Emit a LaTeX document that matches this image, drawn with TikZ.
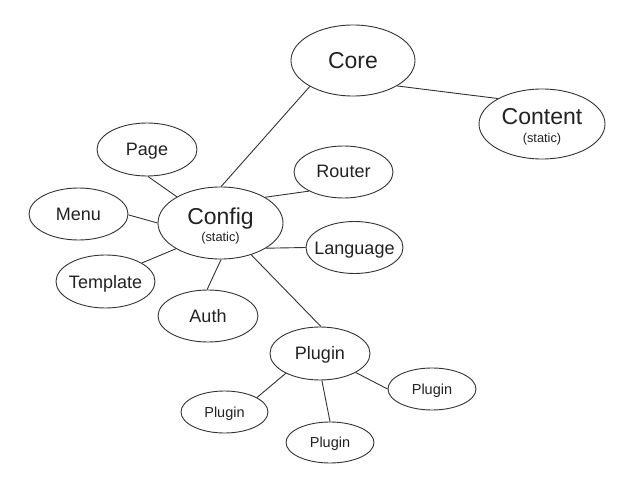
\documentclass[tikz,border=0pt]{standalone}
\usepackage{fontspec}
\setmainfont{Liberation Sans}
\usetikzlibrary{shapes.geometric}
\definecolor{linec}{HTML}{333333}
\definecolor{textc}{HTML}{222222}
\tikzset{
  ell/.style 2 args={ellipse, draw=linec, line width=0.9pt, inner sep=0pt,
    minimum width=#1, minimum height=#2},
  conn/.style={draw=linec, line width=0.9pt},
  bigtxt/.style={font=\fontsize{23}{25}\selectfont, text=textc, anchor=base, inner sep=0pt},
  medtxt/.style={font=\fontsize{18}{20}\selectfont, text=textc, anchor=base, inner sep=0pt},
  smtxt/.style={font=\fontsize{14.5}{16}\selectfont, text=textc, anchor=base, inner sep=0pt},
  stattxt/.style={font=\fontsize{12.8}{14}\selectfont, text=textc, anchor=base, inner sep=0pt},
}
\begin{document}
\begin{tikzpicture}[x=1pt,y=-1pt]
\useasboundingbox[fill=white] (0,0) rectangle (635,484);
% ellipses
\node[ell={124pt}{71pt}] (core) at (353,60.5) {};
\node[ell={126pt}{70pt}] (content) at (542,124) {};
\node[ell={125pt}{72pt}] (config) at (220.5,223) {};
\node[ell={100pt}{53pt}] (page) at (147,149.5) {};
\node[ell={99pt}{52pt}] (menu) at (78.5,214) {};
\node[ell={99pt}{53pt}] (template) at (105.5,281.5) {};
\node[ell={100pt}{52pt}] (auth) at (208,316) {};
\node[ell={99pt}{52pt}] (router) at (343.5,172) {};
\node[ell={97pt}{52pt}] (language) at (354.5,247.5) {};
\node[ell={100pt}{53pt}] (plugin) at (320,353.5) {};
\node[ell={88pt}{42pt}] (pright) at (432,389) {};
\node[ell={87pt}{42pt}] (pleft) at (224.5,412) {};
\node[ell={88pt}{41pt}] (pbottom) at (330,442.5) {};
% texts
\node[bigtxt] (coreT) at (353,69) {Core};
\node[bigtxt] (contentT) at (542,125) {Content};
\node[stattxt] (contentS) at (542,143) {(static)};
\node[bigtxt] (configT) at (220.5,224.3) {Config};
\node[stattxt] (configS) at (220.5,241) {(static)};
\node[medtxt] (pageT) at (147,156) {Page};
\node[medtxt] (menuT) at (78.5,220) {Menu};
\node[medtxt] (templateT) at (105.5,288) {Template};
\node[medtxt] (authT) at (208,322) {Auth};
\node[medtxt] (routerT) at (343.5,178) {Router};
\node[medtxt] (languageT) at (354.5,254) {Language};
\node[medtxt] (pluginT) at (320,359) {Plugin};
\node[smtxt] (prightT) at (432,394) {Plugin};
\node[smtxt] (pleftT) at (224.5,417) {Plugin};
\node[smtxt] (pbottomT) at (330,447.3) {Plugin};
% connectors
\draw[conn] (config.149) -- (page.272);
\draw[conn] (config.180) -- (menu.359);
\draw[conn] (config.210) -- (template.27);
\draw[conn] (config.271) -- (auth.92);
\draw[conn] (config.89) -- (core.211);
\draw[conn] (core.330.5) -- (content.150);
\draw[conn] (config.30) -- (router.209);
\draw[conn] (config.331) -- (language.180);
\draw[conn] (config.314) -- (plugin.88);
\draw[conn] (plugin.210) -- (pleft.24);
\draw[conn] (plugin.274) -- (pbottom.90);
\draw[conn] (plugin.332) -- (pright.180);
\end{tikzpicture}
\end{document}
